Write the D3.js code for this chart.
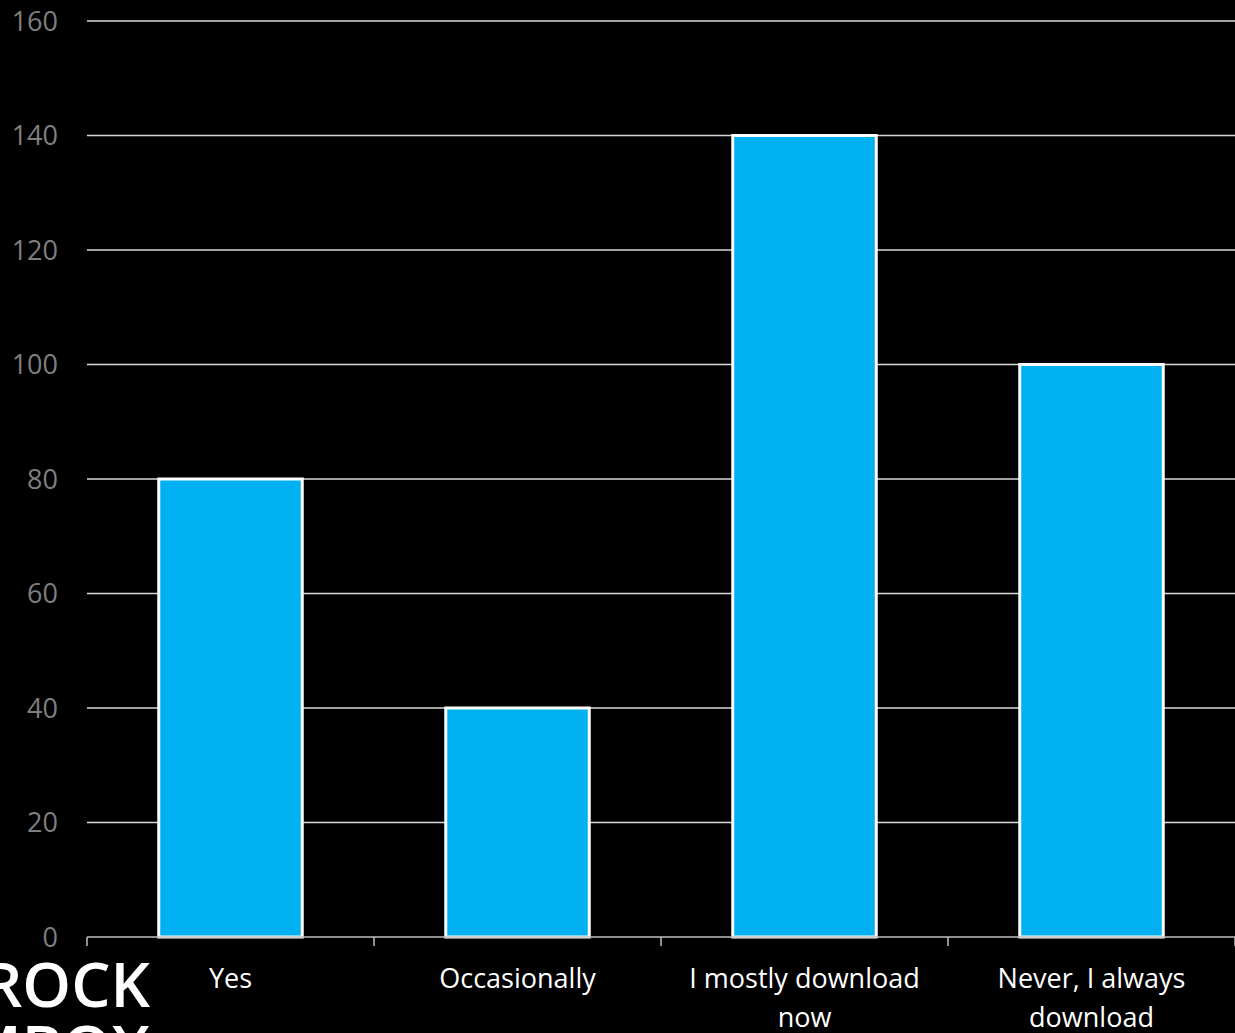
<!DOCTYPE html>
<html>
<head>
<meta charset="utf-8">
<script src="https://cdn.jsdelivr.net/npm/d3@7/dist/d3.min.js"></script>
<style>
  html, body { margin: 0; padding: 0; background: #000; overflow: hidden; }
  svg { display: block; }
</style>
</head>
<body>
<svg id="chart" width="1235" height="1033"></svg>
<script>
// Survey responses: how often people still buy physical music
const categories = ["Yes", "Occasionally", "I mostly download now", "Never, I always download"];
const values = [80, 40, 140, 100];
const yTicks = [0, 20, 40, 60, 80, 100, 120, 140, 160];

const W = 1235, H = 1033;
const margin = { top: 21, right: 0, bottom: 96, left: 87 };

const svg = d3.select("#chart");
svg.append("rect").attr("width", W).attr("height", H).attr("fill", "#000");

const x = d3.scaleBand()
  .domain(categories)
  .range([margin.left, W - margin.right])
  .paddingInner(0.5)
  .paddingOuter(0.25);

const y = d3.scaleLinear()
  .domain([0, 160])
  .range([H - margin.bottom, margin.top]);

const font = "'Open Sans', sans-serif";

// horizontal gridlines
svg.append("g")
  .selectAll("line")
  .data(yTicks.filter(d => d > 0))
  .join("line")
  .attr("x1", margin.left)
  .attr("x2", W)
  .attr("y1", d => y(d))
  .attr("y2", d => y(d))
  .attr("stroke", "#d9d9d9")
  .attr("stroke-width", 1.5);

// y axis labels
svg.append("g")
  .selectAll("text")
  .data(yTicks)
  .join("text")
  .attr("x", 58)
  .attr("y", d => y(d))
  .attr("dy", "0.36em")
  .attr("text-anchor", "end")
  .attr("fill", "#7f7f7f")
  .attr("font-family", font)
  .attr("font-size", 27)
  .text(d => d);

// bars
svg.append("g")
  .selectAll("rect")
  .data(values)
  .join("rect")
  .attr("x", (d, i) => x(categories[i]))
  .attr("y", d => y(d))
  .attr("width", x.bandwidth())
  .attr("height", d => y(0) - y(d))
  .attr("fill", "#00b0f0")
  .attr("stroke", "#ffffff")
  .attr("stroke-width", 3);

// x axis baseline and ticks between categories
const xAxis = svg.append("g");
xAxis.append("line")
  .attr("x1", margin.left).attr("x2", W)
  .attr("y1", y(0)).attr("y2", y(0))
  .attr("stroke", "#bfbfbf").attr("stroke-width", 1.5);

const step = x.step();
const bounds = d3.range(categories.length + 1).map(i => margin.left + i * step);
xAxis.selectAll("line.tick")
  .data(bounds)
  .join("line")
  .attr("class", "tick")
  .attr("x1", d => d).attr("x2", d => d)
  .attr("y1", y(0)).attr("y2", y(0) + 9)
  .attr("stroke", "#bfbfbf").attr("stroke-width", 1.5);

// wrapped category labels
const wrapped = {
  "Yes": ["Yes"],
  "Occasionally": ["Occasionally"],
  "I mostly download now": ["I mostly download", "now"],
  "Never, I always download": ["Never, I always", "download"]
};
const labels = svg.append("g")
  .selectAll("text")
  .data(categories)
  .join("text")
  .attr("x", d => x(d) + x.bandwidth() / 2)
  .attr("y", y(0) + 51)
  .attr("text-anchor", "middle")
  .attr("fill", "#ffffff")
  .attr("font-family", font)
  .attr("font-size", 27);
labels.selectAll("tspan")
  .data(d => wrapped[d])
  .join("tspan")
  .attr("x", function() { return d3.select(this.parentNode).attr("x"); })
  .attr("dy", (d, i) => i === 0 ? 0 : 39)
  .text(d => d);

// brand mark, bottom left
const logo = svg.append("g")
  .attr("fill", "#ffffff")
  .attr("font-family", "'Open Sans', sans-serif")
  .attr("font-weight", 600)
  .attr("font-size", 62)
  .attr("text-anchor", "end");
logo.append("text").attr("x", 150).attr("y", 1007).attr("letter-spacing", 0).text("ROCK");
logo.append("text").attr("x", 150).attr("y", 1070).attr("letter-spacing", 0).text("MBOX");
</script>
</body>
</html>
